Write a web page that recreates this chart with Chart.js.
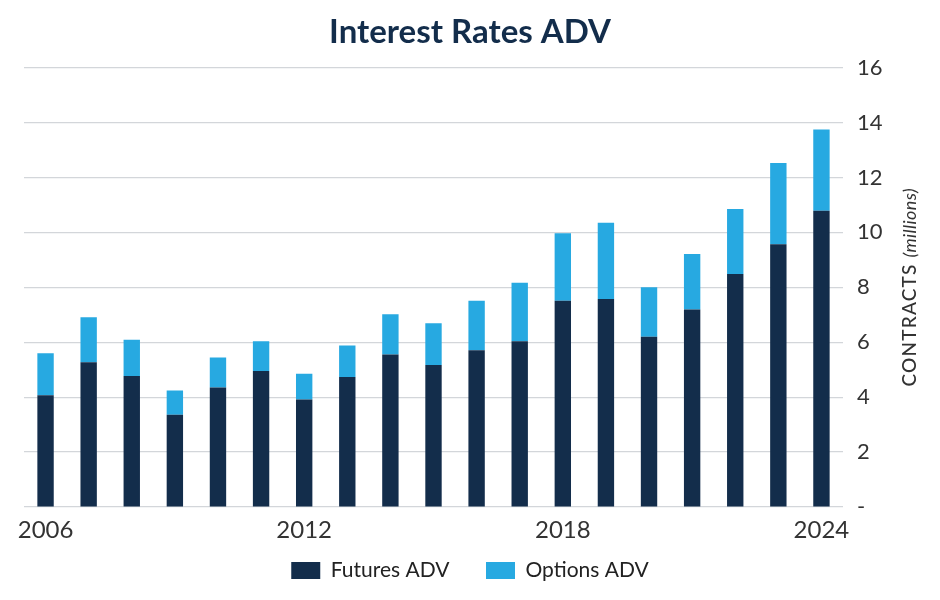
<!DOCTYPE html>
<html>
<head>
<meta charset="utf-8">
<script src="https://cdn.jsdelivr.net/npm/chart.js@4"></script>
<style>
    body { margin: 0; background: #fff; }
    .chart-div { width: 940px; height: 600px; }
</style>
</head>
<body>
<div class="chart-div">
    <canvas id="chart"></canvas>
</div>
<script>
const years = ['2006', '2007', '2008', '2009', '2010', '2011', '2012', '2013', '2014', '2015',
    '2016', '2017', '2018', '2019', '2020', '2021', '2022', '2023', '2024'];
const futuresAdv = [4.07, 5.27, 4.77, 3.36, 4.35, 4.95, 3.91, 4.73, 5.55, 5.17,
    5.71, 6.04, 7.51, 7.57, 6.20, 7.19, 8.48, 9.57, 10.79];
const optionsAdv = [1.53, 1.64, 1.32, 0.88, 1.09, 1.09, 0.94, 1.15, 1.47, 1.52,
    1.80, 2.13, 2.46, 2.78, 1.80, 2.02, 2.37, 2.96, 2.96];
const yTicks = [0, 2, 4, 6, 8, 10, 12, 14, 16];

const navy = '#132d4b';
const lightBlue = '#27a9e1';
const fontFamily = 'Lato, "Open Sans", sans-serif';

// rotated axis title with an italic part, Chart.js titles can only use one font
const axisTitle = {
    id: 'axisTitle',
    afterDraw(chart) {
        const ctx = chart.ctx;
        const area = chart.chartArea;
        const first = 'CONTRACTS ';
        const second = '(millions)';
        ctx.save();
        ctx.fillStyle = '#333';
        ctx.letterSpacing = '1.2px';
        ctx.font = '500 19px ' + fontFamily;
        const w1 = ctx.measureText(first).width;
        ctx.letterSpacing = '0.4px';
        ctx.font = 'italic 18px ' + fontFamily;
        const w2 = ctx.measureText(second).width;
        ctx.translate(910, (area.top + area.bottom) / 2);
        ctx.rotate(-Math.PI / 2);
        ctx.textBaseline = 'middle';
        ctx.textAlign = 'left';
        const start = -(w1 + w2) / 2;
        ctx.letterSpacing = '1.2px';
        ctx.font = '500 19px ' + fontFamily;
        ctx.fillText(first, start, 0);
        ctx.letterSpacing = '0.4px';
        ctx.font = 'italic 18px ' + fontFamily;
        ctx.fillText(second, start + w1, 0);
        ctx.restore();
    }
};

const ctx = document.getElementById('chart').getContext('2d');

new Chart(ctx, {
    type: 'bar',
    data: {
        labels: years,
        datasets: [{
            label: 'Futures ADV',
            data: futuresAdv,
            backgroundColor: navy
        }, {
            label: 'Options ADV',
            data: optionsAdv,
            backgroundColor: lightBlue
        }]
    },
    options: {
        responsive: true,
        maintainAspectRatio: false,
        animation: false,
        layout: {
            padding: { left: 0, right: 0, top: 0, bottom: 9 }
        },
        datasets: {
            bar: {
                barPercentage: 0.38,
                categoryPercentage: 1
            }
        },
        plugins: {
            title: {
                display: true,
                text: 'Interest Rates ADV',
                color: navy,
                font: { family: fontFamily, size: 33, weight: 'bold' },
                padding: { top: 13, bottom: 15 }
            },
            legend: {
                position: 'bottom',
                labels: {
                    boxWidth: 29,
                    boxHeight: 17,
                    padding: 7,
                    color: '#222',
                    font: { family: fontFamily, size: 21 },
                    generateLabels: function(chart) {
                        const items = Chart.defaults.plugins.legend.labels.generateLabels(chart);
                        // wider gap between the two entries
                        items[0].text += '     \u2009';
                        return items;
                    }
                }
            },
            tooltip: { enabled: false }
        },
        scales: {
            x: {
                stacked: true,
                grid: { display: false, drawTicks: false },
                border: { display: false },
                ticks: {
                    autoSkip: false,
                    maxRotation: 0,
                    color: '#333',
                    font: { family: fontFamily, size: 24 },
                    padding: 8.6,
                    callback: function(value, index) {
                        return index % 6 === 0 ? years[index] : '';
                    }
                }
            },
            y: {
                stacked: true,
                position: 'right',
                min: 0,
                max: 16,
                afterBuildTicks: function(axis) {
                    axis.ticks = yTicks.map(v => ({ value: v }));
                },
                afterFit: function(scale) {
                    scale.width = 97;
                },
                grid: {
                    color: '#d3d6da',
                    lineWidth: 1.2,
                    drawTicks: false
                },
                border: { display: false },
                ticks: {
                    color: '#333',
                    padding: 14,
                    font: { family: fontFamily, size: 22 },
                    callback: function(value) {
                        return value === 0 ? '-' : value;
                    }
                }
            },
            // empty left axis, only keeps the plot 24px from the left edge
            spacer: {
                type: 'linear',
                position: 'left',
                grid: { display: false, drawTicks: false },
                border: { display: false },
                ticks: { display: false },
                afterFit: function(scale) {
                    scale.width = 24;
                }
            }
        }
    },
    plugins: [axisTitle]
});
</script>
</body>
</html>
